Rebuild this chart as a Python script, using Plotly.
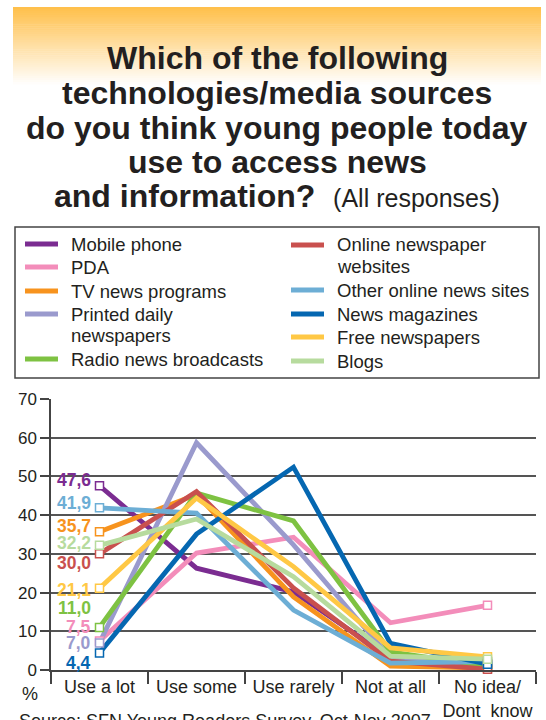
import plotly.graph_objects as go

# ---------------- data ----------------
categories = ["Use a lot", "Use some", "Use rarely", "Not at all", "No idea/<br>Dont\u00a0 know"]

series_names = [
    "Mobile phone", "PDA", "TV news programs", "Printed daily<br>newspapers",
    "Radio news broadcasts", "Online newspaper<br>websites", "Other online news sites",
    "News magazines", "Free newspapers", "Blogs",
]

mobile_phone = [47.6, 26.3, 20.2, 3.1, 1.5]
pda = [7.5, 30.2, 34.3, 12.2, 16.7]
tv_news = [35.7, 45.3, 18.9, 1.0, 0.5]
printed_daily = [7.0, 58.7, 32.3, 3.1, 2.0]
radio_news = [11.0, 45.7, 38.5, 4.7, 1.0]
online_newspaper = [30.0, 46.1, 21.2, 2.3, 0.2]
other_online = [41.9, 40.5, 15.5, 1.8, 2.2]
news_magazines = [4.4, 35.1, 52.4, 6.9, 1.5]
free_newspapers = [21.1, 44.4, 26.7, 5.7, 3.4]
blogs = [32.2, 39.0, 24.1, 3.6, 2.8]

series_values = [mobile_phone, pda, tv_news, printed_daily, radio_news,
                 online_newspaper, other_online, news_magazines, free_newspapers, blogs]

y_ticks = [0, 10, 20, 30, 40, 50, 60, 70]

# ---------------- styles ----------------
colors = ["#7B2C91", "#F38DBA", "#F7931E", "#9A9ACD", "#7EC242",
          "#C9504E", "#6DAED5", "#0567B1", "#FFC845", "#B7DB9E"]
label_yshift = [6, 14, 6, 0, 19, -9, 5, -10, -2, 2]

FONT = "Liberation Sans, Arial, sans-serif"
TXT = "#231F20"
W, H = 546, 720
L, R, T, B = 51, 536, 399, 670


def px_x(px):
    return (px - L) / (R - L)


def px_y(py):
    return (B - py) / (B - T)


fig = go.Figure()

for name, vals, col in zip(series_names, series_values, colors):
    fig.add_trace(go.Scatter(x=categories, y=vals, mode="lines", name=name,
                             line=dict(color=col, width=4.8), showlegend=False,
                             cliponaxis=False))

for vals, col in zip(series_values, colors):
    fig.add_trace(go.Scatter(x=[categories[0], categories[-1]], y=[vals[0], vals[-1]],
                             mode="markers", showlegend=False, cliponaxis=False,
                             marker=dict(symbol="square", size=8, color="white",
                                         line=dict(color=col, width=1.5))))

annotations = []
shapes = []

# value labels at "Use a lot"
for vals, col, ys in zip(series_values, colors, label_yshift):
    annotations.append(dict(x=categories[0], y=vals[0], xref="x", yref="y",
                            text="<b>" + f"{vals[0]:.1f}".replace(".", ",") + "</b>",
                            showarrow=False, xanchor="right", yanchor="middle",
                            xshift=-8, yshift=ys, borderpad=0,
                            font=dict(family=FONT, size=17.5, color=col)))

# gradient band behind title
n_steps = 40
band_top, band_bot = 7, 84
for i in range(n_steps):
    y0 = band_top + (band_bot - band_top) * i / n_steps
    y1 = band_top + (band_bot - band_top) * (i + 1) / n_steps
    a = 1 - i / n_steps
    g = int(round(255 - (255 - 192) * a))
    b = int(round(255 - (255 - 76) * a))
    shapes.append(dict(type="rect", xref="paper", yref="paper",
                       x0=px_x(13), x1=px_x(541), y0=px_y(y1 + 0.5), y1=px_y(y0),
                       fillcolor=f"rgb(255,{g},{b})", line=dict(width=0), layer="below"))

# title
title_lines = [
    "<b>Which of the following</b>",
    "<b>technologies/media sources</b>",
    "<b>do you think young people today</b>",
    "<b>use to access news</b>",
    "<b>and information?</b>  <span style='font-size:25px'>(All responses)</span>",
]
title_centers = [58, 93, 128, 162, 196]
for txt, cy in zip(title_lines, title_centers):
    annotations.append(dict(x=px_x(277), y=px_y(cy), xref="paper", yref="paper",
                            text=txt, showarrow=False, xanchor="center", yanchor="middle",
                            font=dict(family=FONT, size=32, color=TXT)))

# legend box
shapes.append(dict(type="rect", xref="paper", yref="paper",
                   x0=px_x(15), x1=px_x(539), y0=px_y(378), y1=px_y(227),
                   line=dict(color="#444444", width=1.5), fillcolor="rgba(0,0,0,0)"))

legend_pos = [
    (25, 244), (25, 267), (25, 291), (25, 314), (25, 359),
    (291, 245), (291, 290), (291, 314), (291, 337), (291, 361),
]
for name, col, (sx, sy) in zip(series_names, colors, legend_pos):
    shapes.append(dict(type="line", xref="paper", yref="paper",
                       x0=px_x(sx), x1=px_x(sx + 33), y0=px_y(sy), y1=px_y(sy),
                       line=dict(color=col, width=5)))
    for k, part in enumerate(name.split("<br>")):
        annotations.append(dict(x=px_x(sx + 44), y=px_y(sy + 21 * k), xref="paper",
                                yref="paper", text=part, showarrow=False,
                                xanchor="left", yanchor="middle", align="left",
                                font=dict(family=FONT, size=18.5, color=TXT)))

# percent sign and source
annotations.append(dict(x=px_x(30), y=px_y(694), xref="paper", yref="paper", text="%",
                        showarrow=False, xanchor="center", yanchor="middle",
                        font=dict(family=FONT, size=18, color=TXT)))
annotations.append(dict(x=px_x(17), y=px_y(709), xref="paper", yref="paper",
                        text="Source: SFN Young Readers Survey, Oct-Nov 2007",
                        showarrow=False, xanchor="left", yanchor="top",
                        font=dict(family=FONT, size=18, color=TXT)))

fig.update_layout(
    width=W, height=H,
    margin=dict(l=L, r=W - R, t=T, b=H - B, pad=0, autoexpand=False),
    paper_bgcolor="white", plot_bgcolor="white",
    showlegend=False,
    annotations=annotations, shapes=shapes,
    xaxis=dict(type="category", range=[-0.5, 4.5], tickson="boundaries",
               ticks="outside", ticklen=12, tickwidth=1.5, tickcolor="#444444",
               showgrid=False, showline=True, linecolor="#444444", linewidth=1.5,
               automargin=False, tickangle=0,
               tickfont=dict(family=FONT, size=18, color=TXT), fixedrange=True),
    yaxis=dict(range=[0, 70], tickvals=y_ticks, showgrid=True, gridcolor="#555555",
               gridwidth=1.5, zeroline=False, ticks="outside", ticklen=9,
               tickwidth=1.5, tickcolor="#444444", showline=True, linecolor="#444444",
               linewidth=1.5, automargin=False,
               tickfont=dict(family=FONT, size=17, color=TXT), fixedrange=True),
)

fig.write_html("out.html")
